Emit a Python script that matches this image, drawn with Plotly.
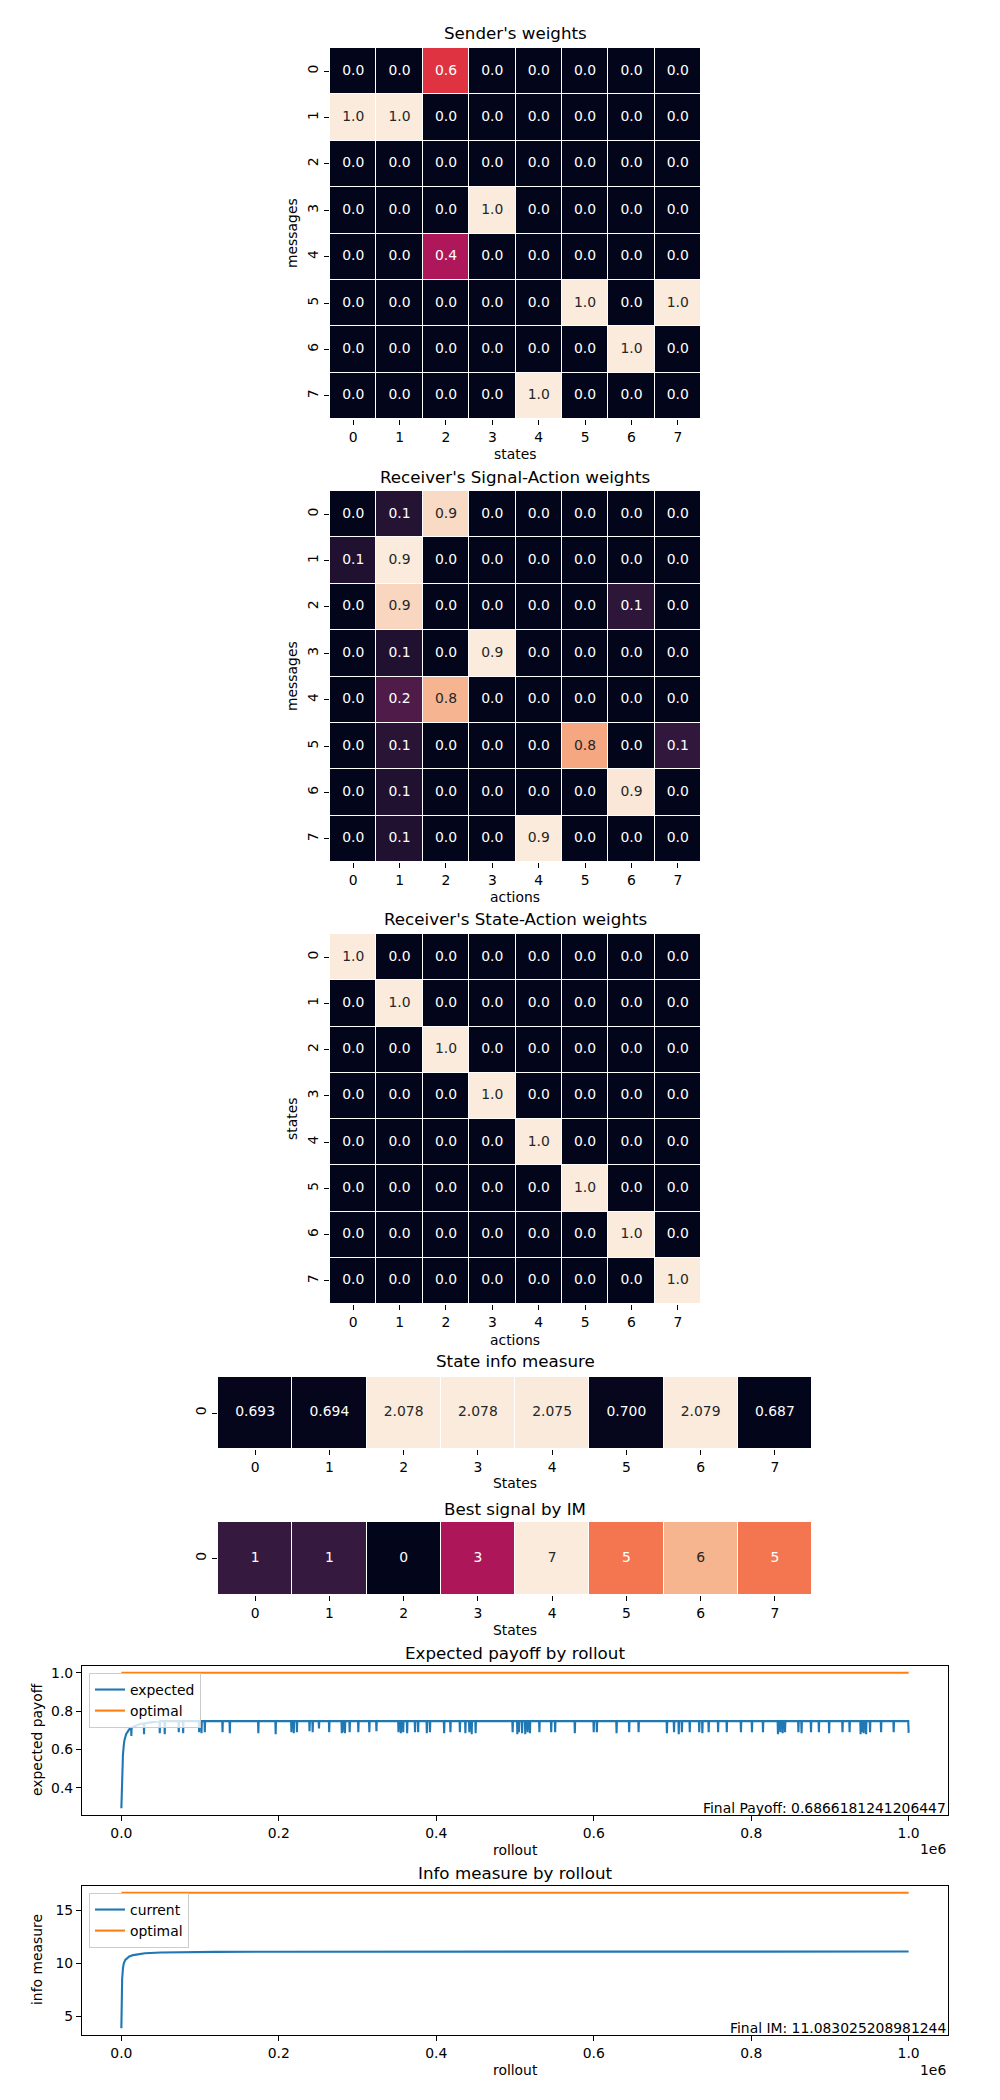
import plotly.graph_objects as go

W, H = 1000, 2100
FONT = "DejaVu Sans"
FS = 13.9
TFS = 16.7

# ---------------- data ----------------
idx8 = [0, 1, 2, 3, 4, 5, 6, 7]
tick_labels = ["0", "1", "2", "3", "4", "5", "6", "7"]

sender_weights = [
    [0.0, 0.0, 0.57, 0.0, 0.0, 0.0, 0.0, 0.0],
    [1.0, 1.0, 0.0, 0.0, 0.0, 0.0, 0.0, 0.0],
    [0.0, 0.0, 0.0, 0.0, 0.0, 0.0, 0.0, 0.0],
    [0.0, 0.0, 0.0, 1.0, 0.0, 0.0, 0.0, 0.0],
    [0.0, 0.0, 0.43, 0.0, 0.0, 0.0, 0.0, 0.0],
    [0.0, 0.0, 0.0, 0.0, 0.0, 1.0, 0.0, 1.0],
    [0.0, 0.0, 0.0, 0.0, 0.0, 0.0, 1.0, 0.0],
    [0.0, 0.0, 0.0, 0.0, 1.0, 0.0, 0.0, 0.0],
]

receiver_signal_action = [
    [0.0, 0.09, 0.88, 0.0, 0.0, 0.0, 0.0, 0.0],
    [0.08, 0.92, 0.0, 0.0, 0.0, 0.0, 0.0, 0.0],
    [0.0, 0.87, 0.0, 0.0, 0.0, 0.0, 0.11, 0.0],
    [0.0, 0.08, 0.0, 0.92, 0.0, 0.0, 0.0, 0.0],
    [0.0, 0.19, 0.79, 0.0, 0.0, 0.0, 0.0, 0.0],
    [0.0, 0.10, 0.0, 0.0, 0.0, 0.76, 0.0, 0.12],
    [0.0, 0.08, 0.0, 0.0, 0.0, 0.0, 0.91, 0.0],
    [0.0, 0.08, 0.0, 0.0, 0.92, 0.0, 0.0, 0.0],
]

receiver_state_action = [
    [1.0 if r == c else 0.0 for c in range(8)] for r in range(8)
]

state_info_measure = [0.693, 0.694, 2.078, 2.078, 2.075, 0.700, 2.079, 0.687]
best_signal = [1, 1, 0, 3, 7, 5, 6, 5]

# expected payoff by rollout
payoff_rollout_rise = [0, 500, 1000, 2000, 3000, 4000, 6000, 8000, 10000,
                       12400, 12700, 13000, 16000, 20000, 25000, 28500,
                       28800, 29100, 35000, 40000]
payoff_rise = [0.294, 0.40, 0.48, 0.57, 0.62, 0.65, 0.68, 0.695, 0.705,
               0.712, 0.670, 0.713, 0.720, 0.728, 0.734, 0.736,
               0.680, 0.736, 0.740, 0.743]
payoff_plateau = 0.748
spike_rollout_k = [48.8, 55.1, 72.9, 78.5, 98.8, 101.8, 106, 128.5, 137.8, 174,
                   196, 216, 219, 223, 239, 243, 251, 264, 280, 281,
                   284, 290, 301, 315, 324, 352, 355, 358, 363, 373,
                   377, 388, 392, 410, 418, 430, 437, 442, 445, 450,
                   497, 503, 505, 509, 513, 516, 519, 531, 546, 551,
                   576, 600, 604, 629, 645, 657, 693, 702, 708, 712,
                   722, 734, 738, 746, 758, 769, 787, 801, 815, 834,
                   837, 840, 843, 860, 864, 876, 886, 899, 916, 925,
                   939, 941, 943, 946, 951, 965, 981]
spike_depth = [0.685, 0.680, 0.690, 0.685, 0.690,
               0.685, 0.690, 0.690, 0.685, 0.685,
               0.680, 0.690, 0.685, 0.690, 0.695,
               0.690, 0.710, 0.690, 0.685, 0.690,
               0.685, 0.690, 0.690, 0.690, 0.695,
               0.690, 0.685, 0.690, 0.685, 0.690,
               0.690, 0.685, 0.690, 0.685, 0.690,
               0.690, 0.685, 0.690, 0.680, 0.685,
               0.690, 0.680, 0.690, 0.685, 0.680,
               0.690, 0.685, 0.690, 0.690, 0.690,
               0.685, 0.690, 0.690, 0.685, 0.690,
               0.690, 0.685, 0.690, 0.680, 0.690,
               0.690, 0.690, 0.685, 0.690, 0.690,
               0.690, 0.690, 0.690, 0.690, 0.680,
               0.690, 0.685, 0.690, 0.690, 0.685,
               0.690, 0.690, 0.685, 0.690, 0.690,
               0.680, 0.690, 0.685, 0.680, 0.690,
               0.690, 0.690]
final_payoff = 0.6866181241206447
optimal_payoff = 1.0
rollout_end = 1000000

# info measure by rollout
im_rollout = [0, 300, 700, 1000, 2000, 3000, 5000, 7500, 10000, 15000, 20000,
              30000, 50000, 80000, 120000, 200000, 400000, 700000, 1000000]
im_current = [3.85, 6.0, 7.8, 8.5, 9.5, 9.95, 10.3, 10.5, 10.62, 10.75, 10.83,
              10.92, 11.0, 11.03, 11.05, 11.07, 11.08, 11.083, 11.083025208981244]
optimal_im = 16.636
final_im = 11.083025208981244

# ---------------- helpers ----------------
ROCKET = [[0.0, "#03051a"], [1 / 7, "#35193e"], [2 / 7, "#701f57"],
          [3 / 7, "#ad1759"], [4 / 7, "#e13342"], [5 / 7, "#f37651"],
          [6 / 7, "#f6b48f"], [1.0, "#faebdd"]]


def hex2rgb(h):
    return tuple(int(h[i:i + 2], 16) / 255 for i in (1, 3, 5))


def cmap(t):
    t = min(max(t, 0.0), 1.0)
    for (a, ca), (b, cb) in zip(ROCKET[:-1], ROCKET[1:]):
        if t <= b:
            f = (t - a) / (b - a)
            A, B = hex2rgb(ca), hex2rgb(cb)
            return [A[i] + (B[i] - A[i]) * f for i in range(3)]
    return list(hex2rgb(ROCKET[-1][1]))


def text_color(v, vmin, vmax):
    t = (v - vmin) / (vmax - vmin) if vmax > vmin else 0
    rgb = cmap(t)
    lin = [c / 12.92 if c <= 0.03928 else ((c + 0.055) / 1.055) ** 2.4 for c in rgb]
    L = 0.2126 * lin[0] + 0.7152 * lin[1] + 0.0722 * lin[2]
    return "#262626" if L > 0.408 else "#ffffff"


def fx(px):
    return px / W


def fy(py):
    return 1 - py / H


fig = go.Figure()
layout = {}
annotations = []


def axis_names(n):
    return ("x" if n == 1 else f"x{n}", "y" if n == 1 else f"y{n}",
            "xaxis" if n == 1 else f"xaxis{n}", "yaxis" if n == 1 else f"yaxis{n}")


def add_heat(n, z, rows, fmt, box):
    xr, yr, xk, yk = axis_names(n)
    flat = [v for row in z for v in row]
    vmin, vmax = min(flat), max(flat)
    fig.add_trace(go.Heatmap(z=z, x=idx8, y=rows, colorscale=ROCKET, zmin=vmin, zmax=vmax,
                             showscale=False, xgap=1, ygap=1, xaxis=xr, yaxis=yr,
                             hoverinfo="skip"))
    tx, ty, tt, tc = [], [], [], []
    for ri, r in enumerate(rows):
        for c in idx8:
            v = z[ri][c]
            tx.append(c)
            ty.append(r)
            tt.append(fmt(v))
            tc.append(text_color(v, vmin, vmax))
    fig.add_trace(go.Scatter(x=tx, y=ty, text=tt, mode="text", xaxis=xr, yaxis=yr,
                             textfont=dict(family=FONT, size=FS, color=tc),
                             showlegend=False, hoverinfo="skip"))
    x0, x1, y0, y1 = box
    common = dict(showgrid=False, zeroline=False, showline=False, ticks="outside",
                  ticklen=5, tickwidth=1, tickcolor="black",
                  tickfont=dict(family=FONT, size=FS, color="black"), fixedrange=True)
    layout[xk] = dict(domain=[fx(x0), fx(x1)], anchor=yr, range=[-0.5, 7.5],
                      tickvals=idx8, ticktext=tick_labels, **common)
    layout[yk] = dict(domain=[fy(y1), fy(y0)], anchor=xr,
                      range=[rows[-1] + 0.5, -0.5], tickvals=rows,
                      ticktext=[str(r) for r in rows], tickangle=-90, **common)


def text_ann(txt, x, y, size=FS, angle=0, xanchor="center", yanchor="middle", yshift=0):
    annotations.append(dict(text=txt, x=fx(x), y=fy(y), xref="paper", yref="paper",
                            showarrow=False, textangle=angle, xanchor=xanchor,
                            yanchor=yanchor, yshift=yshift,
                            font=dict(family=FONT, size=size, color="black")))


f1 = lambda v: f"{v:.1f}"
add_heat(1, sender_weights, idx8, f1, (330, 701, 48, 419))
add_heat(2, receiver_signal_action, idx8, f1, (330, 701, 491, 862))
add_heat(3, receiver_state_action, idx8, f1, (330, 701, 934, 1304))
add_heat(4, [state_info_measure], [0], lambda v: f"{v:.3f}", (218, 812, 1377, 1449))
add_heat(5, [best_signal], [0], lambda v: f"{v:d}", (218, 812, 1522, 1595))

text_ann("Sender's weights", 515, 33, TFS)
text_ann("states", 515, 454)
text_ann("messages", 292, 233, angle=-90)
text_ann("Receiver's Signal-Action weights", 515, 477, TFS)
text_ann("actions", 515, 897)
text_ann("messages", 292, 676, angle=-90)
text_ann("Receiver's State-Action weights", 515, 919, TFS)
text_ann("actions", 515, 1340)
text_ann("states", 292, 1119, angle=-90)
text_ann("State info measure", 515, 1361, TFS)
text_ann("States", 515, 1483)
text_ann("Best signal by IM", 515, 1509, TFS)
text_ann("States", 515, 1630)

# ---------------- line plots ----------------
px_ = list(payoff_rollout_rise)
py_ = list(payoff_rise)
for s, d in zip(spike_rollout_k, spike_depth):
    s = s * 1000
    px_ += [s - 400, s, s + 400]
    py_ += [payoff_plateau, d, payoff_plateau]
px_ += [rollout_end - 500, rollout_end]
py_ += [payoff_plateau, final_payoff]

BLUE, ORANGE = "#1f77b4", "#ff7f0e"
LW = 2.1

fig.add_trace(go.Scatter(x=px_, y=py_, mode="lines", name="expected",
                         line=dict(color=BLUE, width=LW), xaxis="x6", yaxis="y6",
                         legend="legend"))
fig.add_trace(go.Scatter(x=[0, rollout_end], y=[optimal_payoff, optimal_payoff], mode="lines",
                         name="optimal", line=dict(color=ORANGE, width=LW),
                         xaxis="x6", yaxis="y6", legend="legend"))
fig.add_trace(go.Scatter(x=im_rollout, y=im_current, mode="lines", name="current",
                         line=dict(color=BLUE, width=LW), xaxis="x7", yaxis="y7",
                         legend="legend2"))
fig.add_trace(go.Scatter(x=[0, rollout_end], y=[optimal_im, optimal_im], mode="lines",
                         name="optimal", line=dict(color=ORANGE, width=LW),
                         xaxis="x7", yaxis="y7", legend="legend2"))

xt = [0, 200000, 400000, 600000, 800000, 1000000]
xtt = ["0.0", "0.2", "0.4", "0.6", "0.8", "1.0"]
lcommon = dict(showgrid=False, zeroline=False, showline=True, mirror=True,
               linecolor="black", linewidth=1.1, ticks="outside", ticklen=5,
               tickwidth=1.1, tickcolor="black",
               tickfont=dict(family=FONT, size=FS, color="black"), fixedrange=True)
layout["xaxis6"] = dict(domain=[fx(82), fx(948)], anchor="y6", range=[-50000, 1050000],
                        tickvals=xt, ticktext=xtt, **lcommon)
layout["yaxis6"] = dict(domain=[fy(1815), fy(1666)], anchor="x6", range=[0.259, 1.035],
                        tickvals=[0.4, 0.6, 0.8, 1.0], ticktext=["0.4", "0.6", "0.8", "1.0"],
                        **lcommon)
layout["xaxis7"] = dict(domain=[fx(82), fx(948)], anchor="y7", range=[-50000, 1050000],
                        tickvals=xt, ticktext=xtt, **lcommon)
layout["yaxis7"] = dict(domain=[fy(2035), fy(1886)], anchor="x7", range=[3.21, 17.27],
                        tickvals=[5, 10, 15], ticktext=["5", "10", "15"], **lcommon)

text_ann("Expected payoff by rollout", 515, 1653, TFS)
text_ann("rollout", 515, 1850)
text_ann("expected payoff", 37, 1740, angle=-90)
text_ann("1e6", 948, 1849, xanchor="right")
text_ann(f"Final Payoff: {final_payoff}", 948, 1815, xanchor="right", yanchor="bottom", yshift=-3)

text_ann("Info measure by rollout", 515, 1873, TFS)
text_ann("rollout", 515, 2070)
text_ann("info measure", 37, 1960, angle=-90)
text_ann("1e6", 948, 2070, xanchor="right")
text_ann(f"Final IM: {final_im}", 948, 2035, xanchor="right", yanchor="bottom", yshift=-3)

leg = dict(xanchor="left", yanchor="top", bgcolor="rgba(255,255,255,0.8)",
           bordercolor="#cccccc", borderwidth=1, font=dict(family=FONT, size=FS, color="black"),
           itemwidth=30, tracegroupgap=0)
layout["legend"] = dict(x=fx(89), y=fy(1673), **leg)
layout["legend2"] = dict(x=fx(89), y=fy(1893), **leg)

fig.update_layout(width=W, height=H, margin=dict(l=0, r=0, t=0, b=0),
                  paper_bgcolor="white", plot_bgcolor="white",
                  annotations=annotations, showlegend=True, **layout)

fig.write_html("out.html", config={"displayModeBar": False},
               post_script="document.body.style.margin='0';document.body.style.overflow='hidden';")
